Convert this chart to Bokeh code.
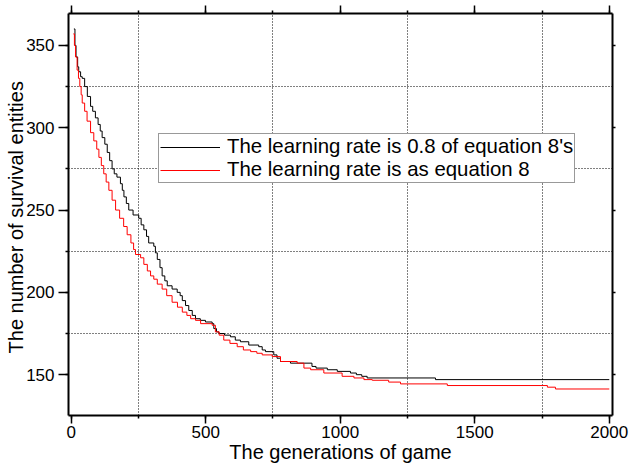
from bokeh.plotting import figure
from bokeh.models import (LinearAxis, SingleIntervalTicker, FixedTicker, Range1d,
                          Legend, LegendItem)
from bokeh.embed import file_html
from bokeh.resources import INLINE

# Survivors per generation, learning rate at 0.8 of equation 8's value (step changes)
gen_slow = [10, 14, 18, 24, 28, 35, 41, 50, 60, 72, 80, 90, 100, 108, 115, 125, 134,
            143, 152, 160, 170, 183, 190, 196, 205, 214, 230, 251, 260, 270, 280, 288,
            307, 313, 320, 330, 338, 348, 357, 375, 394, 405, 413, 425, 437, 450, 462,
            480, 499, 524, 530, 540, 549, 570, 592, 610, 629, 660, 697, 710, 722, 753,
            765, 778, 815, 895, 910, 952, 989, 1038, 1060, 1080, 1100, 1354, 2000]
surv_slow = [360, 350, 343, 337, 334, 331, 330, 325, 319, 313, 310, 306, 302, 298, 294,
             290, 285, 280, 275, 272, 270, 266, 262, 258, 254, 250, 247, 245, 241, 238,
             234, 230, 228, 224, 220, 215, 210, 207, 204, 202, 200, 198, 195, 192, 189,
             186, 184, 183, 182, 181, 178, 176, 175, 174, 173, 171, 170, 168, 167, 165,
             164, 162, 160, 158, 157, 155, 154, 153, 152, 151, 150, 149, 148, 147, 147]

# Survivors per generation, learning rate as in equation 8
gen_full = [8, 12, 16, 22, 27, 32, 37, 41, 50, 59, 72, 84, 95, 103, 112, 121, 130, 140,
            152, 165, 180, 195, 208, 222, 232, 239, 258, 270, 283, 295, 307, 320, 338,
            355, 375, 395, 413, 430, 444, 462, 481, 524, 536, 550, 567, 590, 617, 640,
            667, 690, 710, 747, 778, 840, 865, 890, 939, 1007, 1051, 1088, 1119, 1180,
            1224, 1398, 1770, 1800, 2000]
surv_full = [357, 350, 343, 335, 330, 325, 320, 315, 310, 304, 297, 292, 287, 282, 277,
             272, 267, 262, 256, 250, 245, 240, 235, 230, 226, 223, 221, 217, 213, 210,
             208, 205, 202, 198, 194, 191, 188, 186, 184, 183, 181, 180, 176, 174, 171,
             169, 167, 165, 164, 163, 162, 161, 158, 157, 154, 153, 151, 149, 148, 147,
             146.6, 145.5, 144.4, 143.4, 142.4, 141.3, 141.3]

label_slow = "The learning rate is 0.8 of equation 8's"
label_full = "The learning rate is as equation 8"
x_title = "The generations of game"
y_title = "The number of survival  entities"

FONT = "Liberation Sans"


def staircase(xs, ys):
    """Turn step-change points into the corner points of a staircase line."""
    sx, sy = [xs[0]], [ys[0]]
    for x, y in zip(xs[1:], ys[1:]):
        sx += [x, x]
        sy += [sy[-1], y]
    return sx, sy


p = figure(width=629, height=465, output_backend="svg", toolbar_location=None,
           x_range=Range1d(-10, 2012), y_range=Range1d(125.2, 369.4),
           min_border_left=68, min_border_right=17, min_border_top=13,
           min_border_bottom=49, background_fill_color="white",
           border_fill_color="white")
p.outline_line_color = None


def style_axis(ax, tick_out, minor_out, labels=True):
    ax.axis_line_color = "black"
    ax.axis_line_width = 2
    ax.major_tick_line_color = "black"
    ax.major_tick_line_width = 1.5
    ax.minor_tick_line_color = "black"
    ax.minor_tick_line_width = 1.5
    ax.major_tick_in = 0
    ax.major_tick_out = tick_out
    ax.minor_tick_in = 0
    ax.minor_tick_out = minor_out
    if labels:
        ax.major_label_text_font = FONT
        ax.major_label_text_font_size = "17px"
        ax.major_label_text_color = "black"
        ax.axis_label_text_font = FONT
        ax.axis_label_text_font_size = "20px"
        ax.axis_label_text_font_style = "normal"
        ax.axis_label_text_color = "black"
    else:
        # tick marks only, no numbers on the mirrored axes
        ax.major_label_text_color = None
        ax.major_label_text_font_size = "1px"
        ax.major_label_standoff = 0


xaxis = p.xaxis[0]
xaxis.ticker = SingleIntervalTicker(interval=500, num_minor_ticks=2)
xaxis.axis_label = x_title
style_axis(xaxis, 8, 3)
xaxis.major_label_standoff = 2
xaxis.axis_label_standoff = 0

yaxis = p.yaxis[0]
yaxis.ticker = SingleIntervalTicker(interval=50, num_minor_ticks=2)
yaxis.axis_label = y_title
style_axis(yaxis, 10, 3)
yaxis.major_label_standoff = 4
yaxis.axis_label_standoff = -4

top_axis = LinearAxis(ticker=SingleIntervalTicker(interval=500, num_minor_ticks=2))
style_axis(top_axis, 8, 3, labels=False)
p.add_layout(top_axis, "above")

right_axis = LinearAxis(ticker=SingleIntervalTicker(interval=50, num_minor_ticks=2))
style_axis(right_axis, 3, 0, labels=False)
p.add_layout(right_axis, "right")

# dotted grid at the intermediate positions
p.xgrid.ticker = FixedTicker(ticks=[250, 750, 1250, 1750])
p.ygrid.ticker = FixedTicker(ticks=[175, 225, 275, 325])
for g in (p.xgrid[0], p.ygrid[0]):
    g.grid_line_color = "black"
    g.grid_line_dash = "1 2"
    g.grid_line_width = 1

sx, sy = staircase(gen_slow, surv_slow)
r_slow = p.line(sx, sy, line_color="black", line_width=1)
fx, fy = staircase(gen_full, surv_full)
r_full = p.line(fx, fy, line_color="#ff0000", line_width=1)

legend = Legend(items=[LegendItem(label=label_slow, renderers=[r_slow]),
                       LegendItem(label=label_full, renderers=[r_full])],
                location=(90, 232), padding=1, spacing=0, margin=0,
                glyph_width=60, glyph_height=18, label_height=18, label_standoff=7,
                label_text_font=FONT, label_text_font_size="20.4px",
                label_text_color="black",
                border_line_color="#333333", border_line_width=1,
                background_fill_color="white", background_fill_alpha=1)
p.add_layout(legend)

open("out.html", "w").write(file_html(p, INLINE))
